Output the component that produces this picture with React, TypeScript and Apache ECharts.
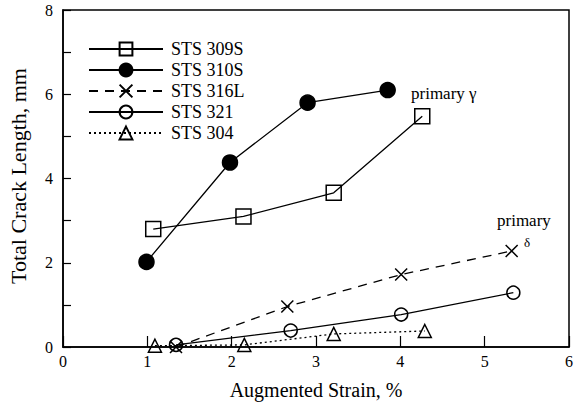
import React, { useEffect, useRef } from "react";
import * as echarts from "echarts";

const xTicks = [0, 1, 2, 3, 4, 5, 6];
const yTickLabels = [0, 2, 4, 6, 8];

const seriesNames = ["STS 309S", "STS 310S", "STS 316L", "STS 321", "STS 304"];

const sts309S: number[][] = [
  [1.07, 2.8],
  [2.14, 3.1],
  [3.21, 3.66],
  [4.26, 5.48],
];
const sts310S: number[][] = [
  [0.99, 2.02],
  [1.98, 4.38],
  [2.9, 5.8],
  [3.85, 6.1],
];
const sts316L: number[][] = [
  [1.34, 0.0],
  [2.66, 0.96],
  [4.01, 1.72],
  [5.32, 2.28],
];
const sts321: number[][] = [
  [1.34, 0.05],
  [2.7, 0.39],
  [4.01, 0.77],
  [5.34, 1.29],
];
const sts304: number[][] = [
  [1.09, 0.03],
  [2.15, 0.05],
  [3.21, 0.31],
  [4.29, 0.38],
];

const FONT = "Liberation Serif";

export default function App() {
  const ref = useRef<HTMLDivElement>(null);
  useEffect(() => {
    if (!ref.current) return;
    const chart = echarts.init(ref.current, null, { renderer: "svg" });
    const lineBase = (name: string, data: number[][], symbol: string, size: number, fill: string, type: any) => ({
      name,
      type: "line",
      data,
      symbol,
      symbolSize: size,
      showSymbol: true,
      lineStyle: { color: "#000", width: 1.3, type },
      itemStyle: { color: fill, borderColor: "#000", borderWidth: 1.5 },
      emphasis: { disabled: true },
      z: 3,
    });
    chart.setOption({
      animation: false,
      backgroundColor: "#fff",
      textStyle: { fontFamily: FONT },
      grid: {
        left: 63,
        right: 5,
        top: 10,
        bottom: 54,
        show: true,
        borderColor: "#000",
        borderWidth: 1.5,
        backgroundColor: "transparent",
      },
      legend: {
        orient: "vertical",
        left: 83,
        top: 35,
        padding: 5,
        itemWidth: 74,
        itemHeight: 16,
        itemGap: 3,
        data: seriesNames,
        textStyle: { fontFamily: FONT, fontSize: 18, color: "#000", padding: [0, 0, 0, 3] },
        selectedMode: false,
      },
      xAxis: {
        type: "value",
        min: xTicks[0],
        max: xTicks[xTicks.length - 1],
        interval: 1,
        splitLine: { show: false },
        axisLine: { lineStyle: { color: "#000", width: 1.5 } },
        axisTick: { inside: true, length: 11, lineStyle: { color: "#000", width: 1.2 } },
        axisLabel: { fontFamily: FONT, fontSize: 16, color: "#000", margin: 6 },
        name: "Augmented Strain, %",
        nameLocation: "middle",
        nameGap: 33,
        nameTextStyle: { fontFamily: FONT, fontSize: 20, color: "#000" },
      },
      yAxis: {
        type: "value",
        min: 0,
        max: 8,
        interval: 1,
        splitLine: { show: false },
        axisLine: { lineStyle: { color: "#000", width: 1.5 } },
        axisTick: { inside: true, length: 8, lineStyle: { color: "#000", width: 1.2 } },
        axisLabel: {
          fontFamily: FONT,
          fontSize: 16,
          color: "#000",
          margin: 10,
          formatter: (v: number) => (yTickLabels.indexOf(v) >= 0 ? String(v) : ""),
        },
      },
      graphic: [
        {
          type: "text",
          x: 18,
          y: 176,
          rotation: Math.PI / 2,
          style: {
            text: "Total Crack Length, mm",
            fontFamily: FONT,
            fontSize: 22,
            fill: "#000",
            textAlign: "center",
            textVerticalAlign: "middle",
          },
        },
        {
          type: "text",
          left: 411,
          top: 85,
          style: { text: "primary γ", fontFamily: FONT, fontSize: 17, fill: "#000" },
        },
        {
          type: "text",
          left: 497,
          top: 212,
          style: { text: "primary", fontFamily: FONT, fontSize: 17, fill: "#000" },
        },
        {
          type: "text",
          left: 524,
          top: 236,
          style: { text: "δ", fontFamily: FONT, fontSize: 13, fill: "#000" },
        },
      ],
      series: [
        lineBase(seriesNames[0], sts309S, "rect", 15, "transparent", "solid"),
        lineBase(seriesNames[1], sts310S, "circle", 15, "#000", "solid"),
        lineBase(seriesNames[2], sts316L, "path://M0,0L10,10M10,0L0,10", 12, "#000", [9, 7]),
        lineBase(seriesNames[3], sts321, "circle", 13, "transparent", "solid"),
        lineBase(seriesNames[4], sts304, "triangle", 13, "transparent", [2, 3]),
      ],
    });
    return () => chart.dispose();
  }, []);
  return (
    <div
      ref={ref}
      style={{ position: "absolute", left: 0, top: 0, width: 576, height: 405 }}
    />
  );
}
